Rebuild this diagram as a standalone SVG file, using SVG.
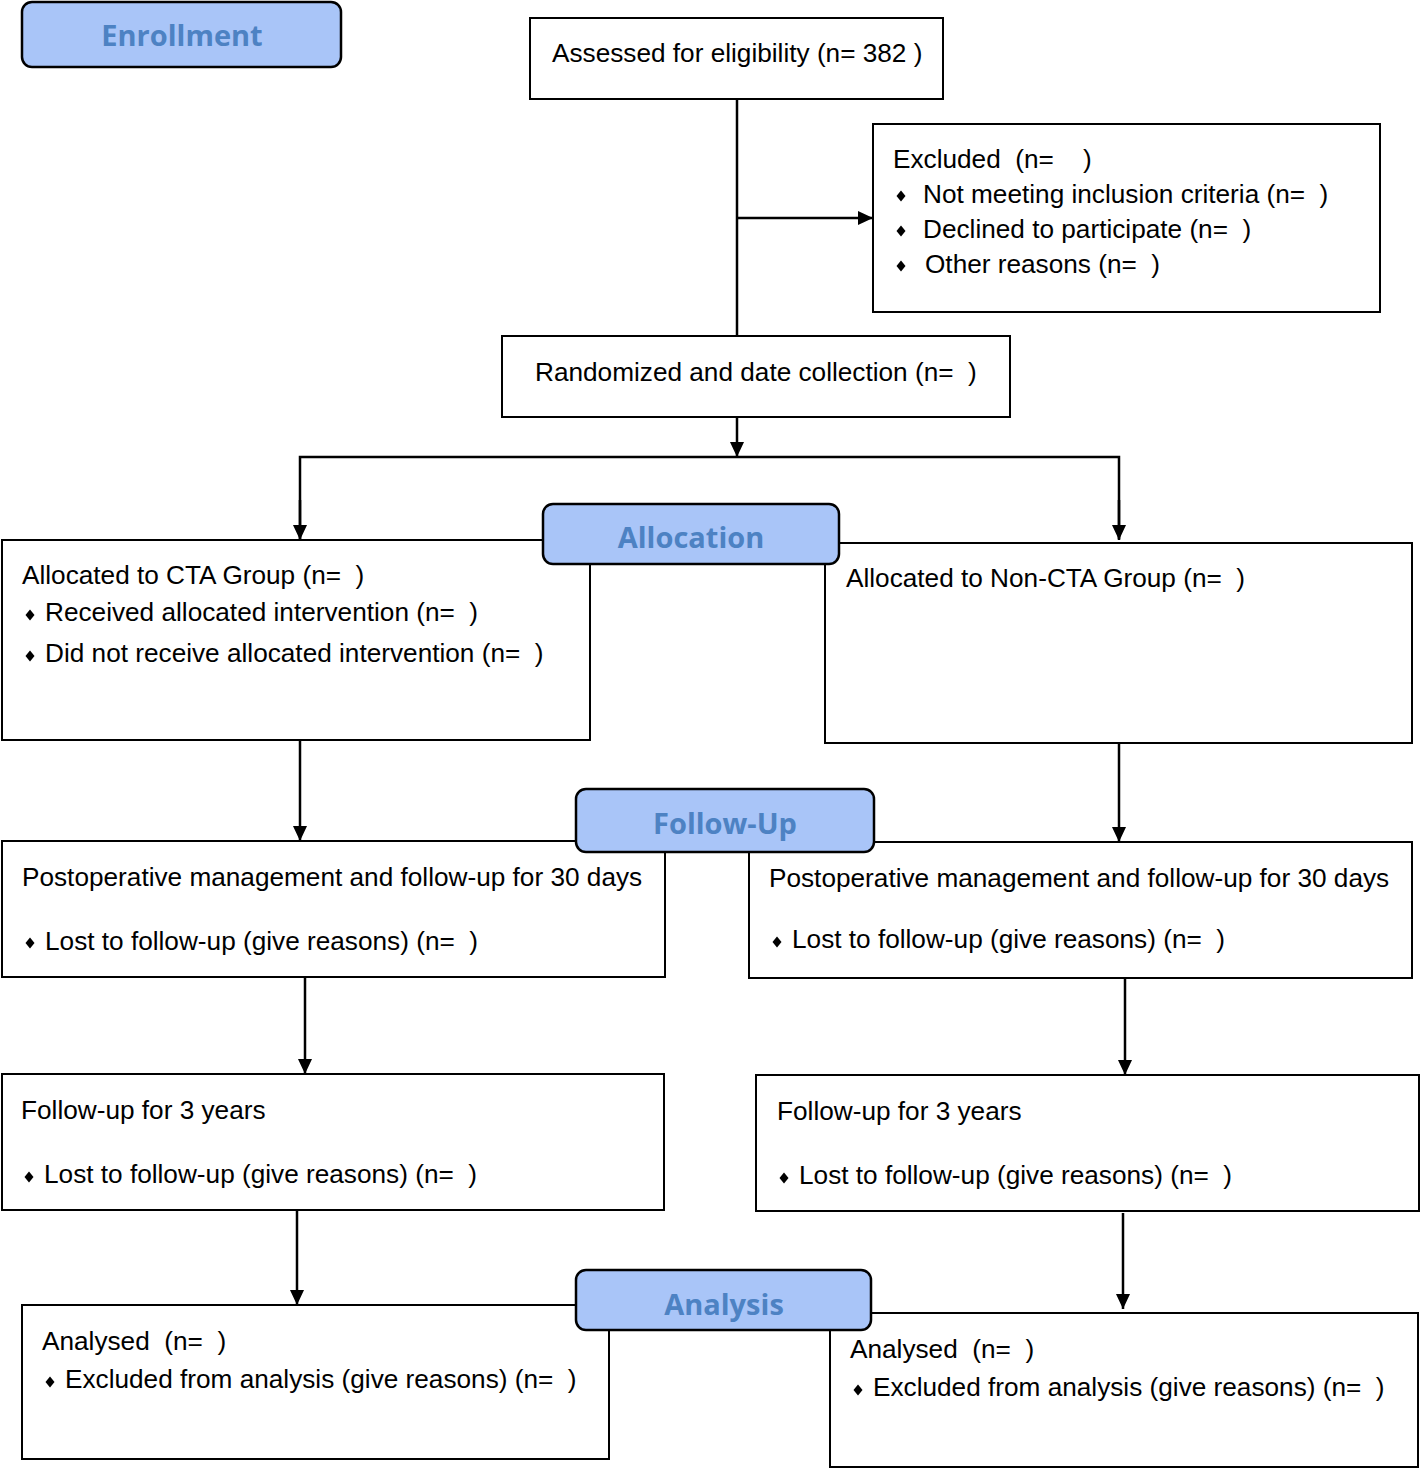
<svg xmlns="http://www.w3.org/2000/svg" width="1420" height="1468" viewBox="0 0 1420 1468">
<defs>
<style>
.box{fill:#fff;stroke:#000;stroke-width:2}
.lab{fill:#a9c5f8;stroke:#000;stroke-width:2.5}
.lt{font-family:"Open Sans","Liberation Sans",sans-serif;font-weight:bold;font-size:29px;fill:#4d82c3;text-anchor:middle}
.t{font-family:"Liberation Sans",Arial,sans-serif;font-size:26.2px;fill:#000}
.c{fill:none;stroke:#000;stroke-width:2.5}
</style>
<marker id="ah" markerWidth="15" markerHeight="14" refX="15" refY="7" orient="auto" markerUnits="userSpaceOnUse">
<path d="M0,0 L15,7 L0,14 Z" fill="#000"/>
</marker>
<path id="dm" d="M0,-5.5 L4.5,0 L0,5.5 L-4.5,0 Z" fill="#000"/>
</defs>

<g id="connectors">
<line class="c" x1="737" y1="99" x2="737" y2="336"/>
<line class="c" x1="737" y1="218" x2="873" y2="218" marker-end="url(#ah)"/>
<line class="c" x1="737" y1="417" x2="737" y2="457" marker-end="url(#ah)"/>
<polyline class="c" points="300,539 300,457 1119,457 1119,539"/>
<line class="c" x1="300" y1="500" x2="300" y2="540" marker-end="url(#ah)"/>
<line class="c" x1="1119" y1="500" x2="1119" y2="540" marker-end="url(#ah)"/>
<line class="c" x1="300" y1="740" x2="300" y2="841" marker-end="url(#ah)"/>
<line class="c" x1="1119" y1="743" x2="1119" y2="842" marker-end="url(#ah)"/>
<line class="c" x1="305" y1="977" x2="305" y2="1074" marker-end="url(#ah)"/>
<line class="c" x1="1125" y1="978" x2="1125" y2="1075" marker-end="url(#ah)"/>
<line class="c" x1="297" y1="1210" x2="297" y2="1305" marker-end="url(#ah)"/>
<line class="c" x1="1123" y1="1213" x2="1123" y2="1309" marker-end="url(#ah)"/>
</g>

<g id="enrollment">
<rect class="lab" x="22" y="2" width="319" height="65" rx="10"/>
<text class="lt" x="182" y="46">Enrollment</text>
</g>

<g id="assessed">
<rect class="box" x="530" y="18" width="413" height="81"/>
<text class="t" x="552" y="62">Assessed for eligibility (n= 382 )</text>
</g>

<g id="excluded">
<rect class="box" x="873" y="124" width="507" height="188"/>
<text class="t" x="893" y="168" xml:space="preserve">Excluded  (n=    )</text>
<use href="#dm" x="901" y="196"/>
<text class="t" x="923" y="203" xml:space="preserve">Not meeting inclusion criteria (n=  )</text>
<use href="#dm" x="901" y="231"/>
<text class="t" x="923" y="238" xml:space="preserve">Declined to participate (n=  )</text>
<use href="#dm" x="901" y="266"/>
<text class="t" x="925" y="273" xml:space="preserve">Other reasons (n=  )</text>
</g>

<g id="randomized">
<rect class="box" x="502" y="336" width="508" height="81"/>
<text class="t" x="535" y="381" xml:space="preserve">Randomized and date collection (n=  )</text>
</g>

<g id="alloc-cta">
<rect class="box" x="2" y="540" width="588" height="200"/>
<text class="t" x="22" y="584" xml:space="preserve">Allocated to CTA Group (n=  )</text>
<use href="#dm" x="30" y="615"/>
<text class="t" x="45" y="621" xml:space="preserve">Received allocated intervention (n=  )</text>
<use href="#dm" x="30" y="656"/>
<text class="t" x="45" y="662" xml:space="preserve">Did not receive allocated intervention (n=  )</text>
</g>

<g id="alloc-noncta">
<rect class="box" x="825" y="543" width="587" height="200"/>
<text class="t" x="846" y="587" xml:space="preserve">Allocated to Non-CTA Group (n=  )</text>
</g>

<g id="allocation">
<rect class="lab" x="543" y="504" width="296" height="60" rx="10"/>
<text class="lt" x="691" y="548">Allocation</text>
</g>

<g id="fu30-cta">
<rect class="box" x="2" y="841" width="663" height="136"/>
<text class="t" x="22" y="886">Postoperative management and follow-up for 30 days</text>
<use href="#dm" x="30" y="943"/>
<text class="t" x="45" y="950" xml:space="preserve">Lost to follow-up (give reasons) (n=  )</text>
</g>

<g id="fu30-noncta">
<rect class="box" x="749" y="842" width="663" height="136"/>
<text class="t" x="769" y="887">Postoperative management and follow-up for 30 days</text>
<use href="#dm" x="777" y="942"/>
<text class="t" x="792" y="948" xml:space="preserve">Lost to follow-up (give reasons) (n=  )</text>
</g>

<g id="followup">
<rect class="lab" x="576" y="789" width="298" height="63" rx="10"/>
<text class="lt" x="725" y="834">Follow-Up</text>
</g>

<g id="fu3-cta">
<rect class="box" x="2" y="1074" width="662" height="136"/>
<text class="t" x="21" y="1119">Follow-up for 3 years</text>
<use href="#dm" x="29" y="1177"/>
<text class="t" x="44" y="1183" xml:space="preserve">Lost to follow-up (give reasons) (n=  )</text>
</g>

<g id="fu3-noncta">
<rect class="box" x="756" y="1075" width="663" height="136"/>
<text class="t" x="777" y="1120">Follow-up for 3 years</text>
<use href="#dm" x="784" y="1178"/>
<text class="t" x="799" y="1184" xml:space="preserve">Lost to follow-up (give reasons) (n=  )</text>
</g>

<g id="analysed-cta">
<rect class="box" x="22" y="1305" width="587" height="154"/>
<text class="t" x="42" y="1350" xml:space="preserve">Analysed  (n=  )</text>
<use href="#dm" x="50" y="1382"/>
<text class="t" x="65" y="1388" xml:space="preserve">Excluded from analysis (give reasons) (n=  )</text>
</g>

<g id="analysed-noncta">
<rect class="box" x="830" y="1313" width="588" height="154"/>
<text class="t" x="850" y="1358" xml:space="preserve">Analysed  (n=  )</text>
<use href="#dm" x="858" y="1390"/>
<text class="t" x="873" y="1396" xml:space="preserve">Excluded from analysis (give reasons) (n=  )</text>
</g>

<g id="analysis">
<rect class="lab" x="576" y="1270" width="295" height="60" rx="10"/>
<text class="lt" x="724" y="1315">Analysis</text>
</g>
</svg>
